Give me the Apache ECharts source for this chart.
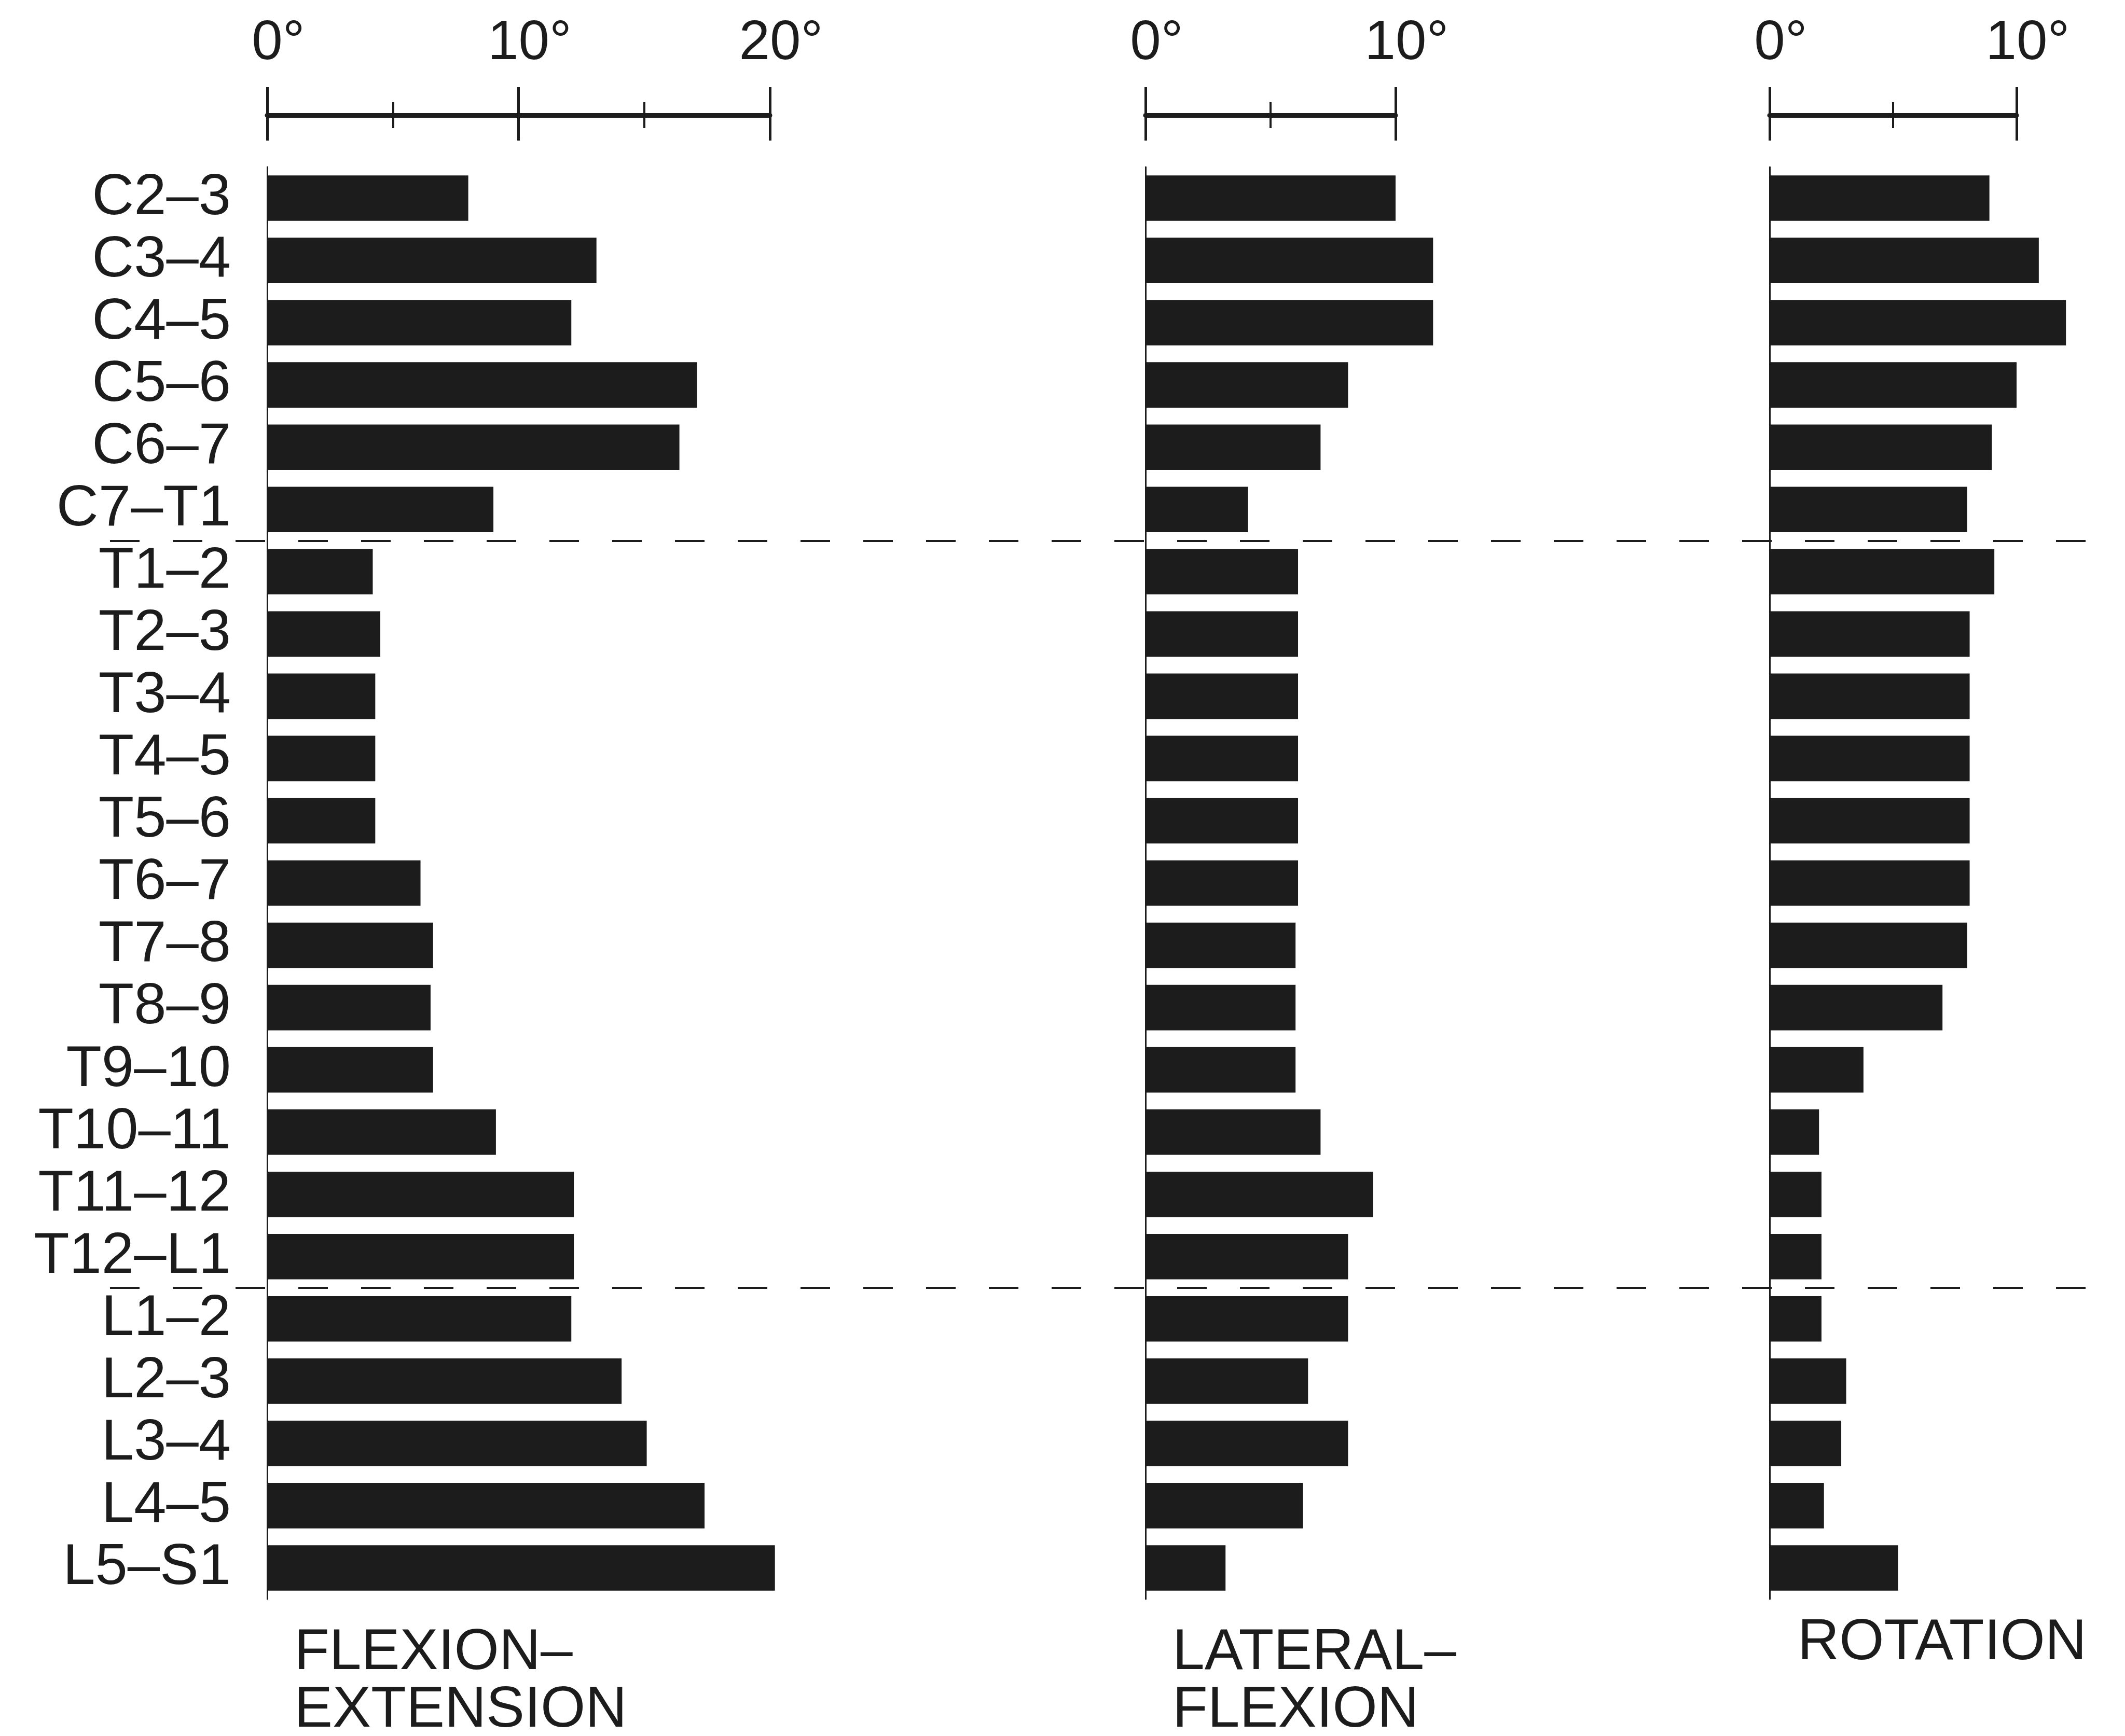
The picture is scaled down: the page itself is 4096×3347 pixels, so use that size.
<!DOCTYPE html>
<html>
<head>
<meta charset="utf-8">
<title>Segmental range of motion</title>
<script src="https://cdn.jsdelivr.net/npm/echarts@6/dist/echarts.min.js"></script>
<style>
  html, body { margin: 0; padding: 0; background: #ffffff; }
  #chart { width: 4096px; height: 3347px; }
</style>
</head>
<body>
<div id="chart"></div>
<script>
// Motion segments, top (cervical) to bottom (lumbosacral)
const segments = ['C2–3', 'C3–4', 'C4–5', 'C5–6', 'C6–7', 'C7–T1',
  'T1–2', 'T2–3', 'T3–4', 'T4–5', 'T5–6', 'T6–7', 'T7–8', 'T8–9', 'T9–10',
  'T10–11', 'T11–12', 'T12–L1', 'L1–2', 'L2–3', 'L3–4', 'L4–5', 'L5–S1'];

// Representative angles in degrees
const flexionExtension = [8.0, 13.1, 12.1, 17.1, 16.4, 9.0,
  4.2, 4.5, 4.3, 4.3, 4.3, 6.1, 6.6, 6.5, 6.6,
  9.1, 12.2, 12.2, 12.1, 14.1, 15.1, 17.4, 20.2];
const lateralFlexion = [10.0, 11.5, 11.5, 8.1, 7.0, 4.1,
  6.1, 6.1, 6.1, 6.1, 6.1, 6.1, 6.0, 6.0, 6.0,
  7.0, 9.1, 8.1, 8.1, 6.5, 8.1, 6.3, 3.2];
const axialRotation = [8.9, 10.9, 12.0, 10.0, 9.0, 8.0,
  9.1, 8.1, 8.1, 8.1, 8.1, 8.1, 8.0, 7.0, 3.8,
  2.0, 2.1, 2.1, 2.1, 3.1, 2.9, 2.2, 5.2];

// Last segment of the cervical and of the thoracic region
const regionEnds = ['C7–T1', 'T12–L1'];

// Scale extents and tick step of each panel's degree axis
const scaleMax = [20, 10, 10];
const tickStep = 10;

const panelTitles = ['FLEXION–\nEXTENSION', 'LATERAL–\nFLEXION', 'ROTATION'];
const panelValues = [flexionExtension, lateralFlexion, axialRotation];

const INK = '#1c1c1c';
const FONT = "'Liberation Sans', Arial, Helvetica, sans-serif";

// Panel placement (pixels)
const GRID_TOP = 322;
const GRID_BOTTOM = 264;
const panelBox = [
  { left: 515, right: 2612 },
  { left: 2208, right: 1406 },
  { left: 3411, right: 209 }
];
const titleBox = [
  { left: 567, top: 3132 },
  { left: 2260, top: 3132 },
  { left: 3465, top: 3113 }
];

const grids = panelBox.map(b => ({
  left: b.left, right: b.right, top: GRID_TOP, bottom: GRID_BOTTOM, containLabel: false
}));
// Full-width layer carrying the region dividers
grids.push({ left: 212, right: 76, top: GRID_TOP, bottom: GRID_BOTTOM, containLabel: false });

const xAxes = [];
const yAxes = [];
const series = [];

panelBox.forEach((b, i) => {
  // Scale bar with its labels and upward ticks
  xAxes.push({
    type: 'value', gridIndex: i, position: 'top', offset: 100,
    min: 0, max: scaleMax[i], interval: tickStep,
    axisLine: { show: true, lineStyle: { color: INK, width: 9 } },
    axisTick: { show: true, inside: false, length: 54, lineStyle: { color: INK, width: 5 } },
    minorTick: { show: true, splitNumber: 2, length: 25, lineStyle: { color: INK, width: 4 } },
    splitLine: { show: false },
    axisLabel: {
      show: true, margin: 84,
      formatter: v => '{n|' + v + '}{d|°}',
      rich: {
        n: { fontFamily: FONT, fontSize: 107, lineHeight: 107, color: INK, padding: [0, 0, 0, 43] },
        d: { fontFamily: FONT, fontSize: 107, lineHeight: 107, color: INK }
      }
    }
  });
  // Same scale, ticks continuing below the bar
  xAxes.push({
    type: 'value', gridIndex: i, position: 'top', offset: 100,
    min: 0, max: scaleMax[i], interval: tickStep,
    axisLine: { show: false },
    axisTick: { show: true, inside: true, length: 49, lineStyle: { color: INK, width: 5 } },
    minorTick: { show: true, splitNumber: 2, length: 25, lineStyle: { color: INK, width: 4 } },
    splitLine: { show: false },
    axisLabel: { show: false }
  });
  yAxes.push({
    type: 'category', gridIndex: i, data: segments, inverse: true,
    axisLine: { show: true, lineStyle: { color: INK, width: 3 } },
    axisTick: { show: false },
    splitLine: { show: false },
    axisLabel: {
      show: i === 0, interval: 0, margin: 70, fontFamily: FONT, fontSize: 112, color: INK
    }
  });
  series.push({
    type: 'bar', xAxisIndex: i * 2, yAxisIndex: i,
    data: panelValues[i], barWidth: '73%', clip: false, silent: true,
    itemStyle: { color: INK }
  });
});

// Divider layer: index scale aligned with the segment bands
xAxes.push({ type: 'value', gridIndex: 3, min: 0, max: 1, show: false });
yAxes.push({ type: 'value', gridIndex: 3, min: -0.5, max: segments.length - 0.5, inverse: true, show: false });
series.push({
  type: 'line', xAxisIndex: xAxes.length - 1, yAxisIndex: yAxes.length - 1,
  data: [], silent: true,
  markLine: {
    silent: true, symbol: ['none', 'none'], animation: false,
    label: { show: false },
    lineStyle: { color: INK, width: 4, type: [57, 64] },
    data: regionEnds.map(name => ({ yAxis: segments.indexOf(name) + 0.5 }))
  }
});

const option = {
  backgroundColor: '#ffffff',
  animation: false,
  title: panelTitles.map((t, i) => ({
    text: t, left: titleBox[i].left, top: titleBox[i].top, padding: 0,
    textStyle: { fontFamily: FONT, fontSize: 111, fontWeight: 'normal', color: INK, lineHeight: 111 }
  })),
  grid: grids,
  xAxis: xAxes,
  yAxis: yAxes,
  series: series
};

const chart = echarts.init(document.getElementById('chart'), null, { renderer: 'canvas' });
chart.setOption(option);
</script>
</body>
</html>
